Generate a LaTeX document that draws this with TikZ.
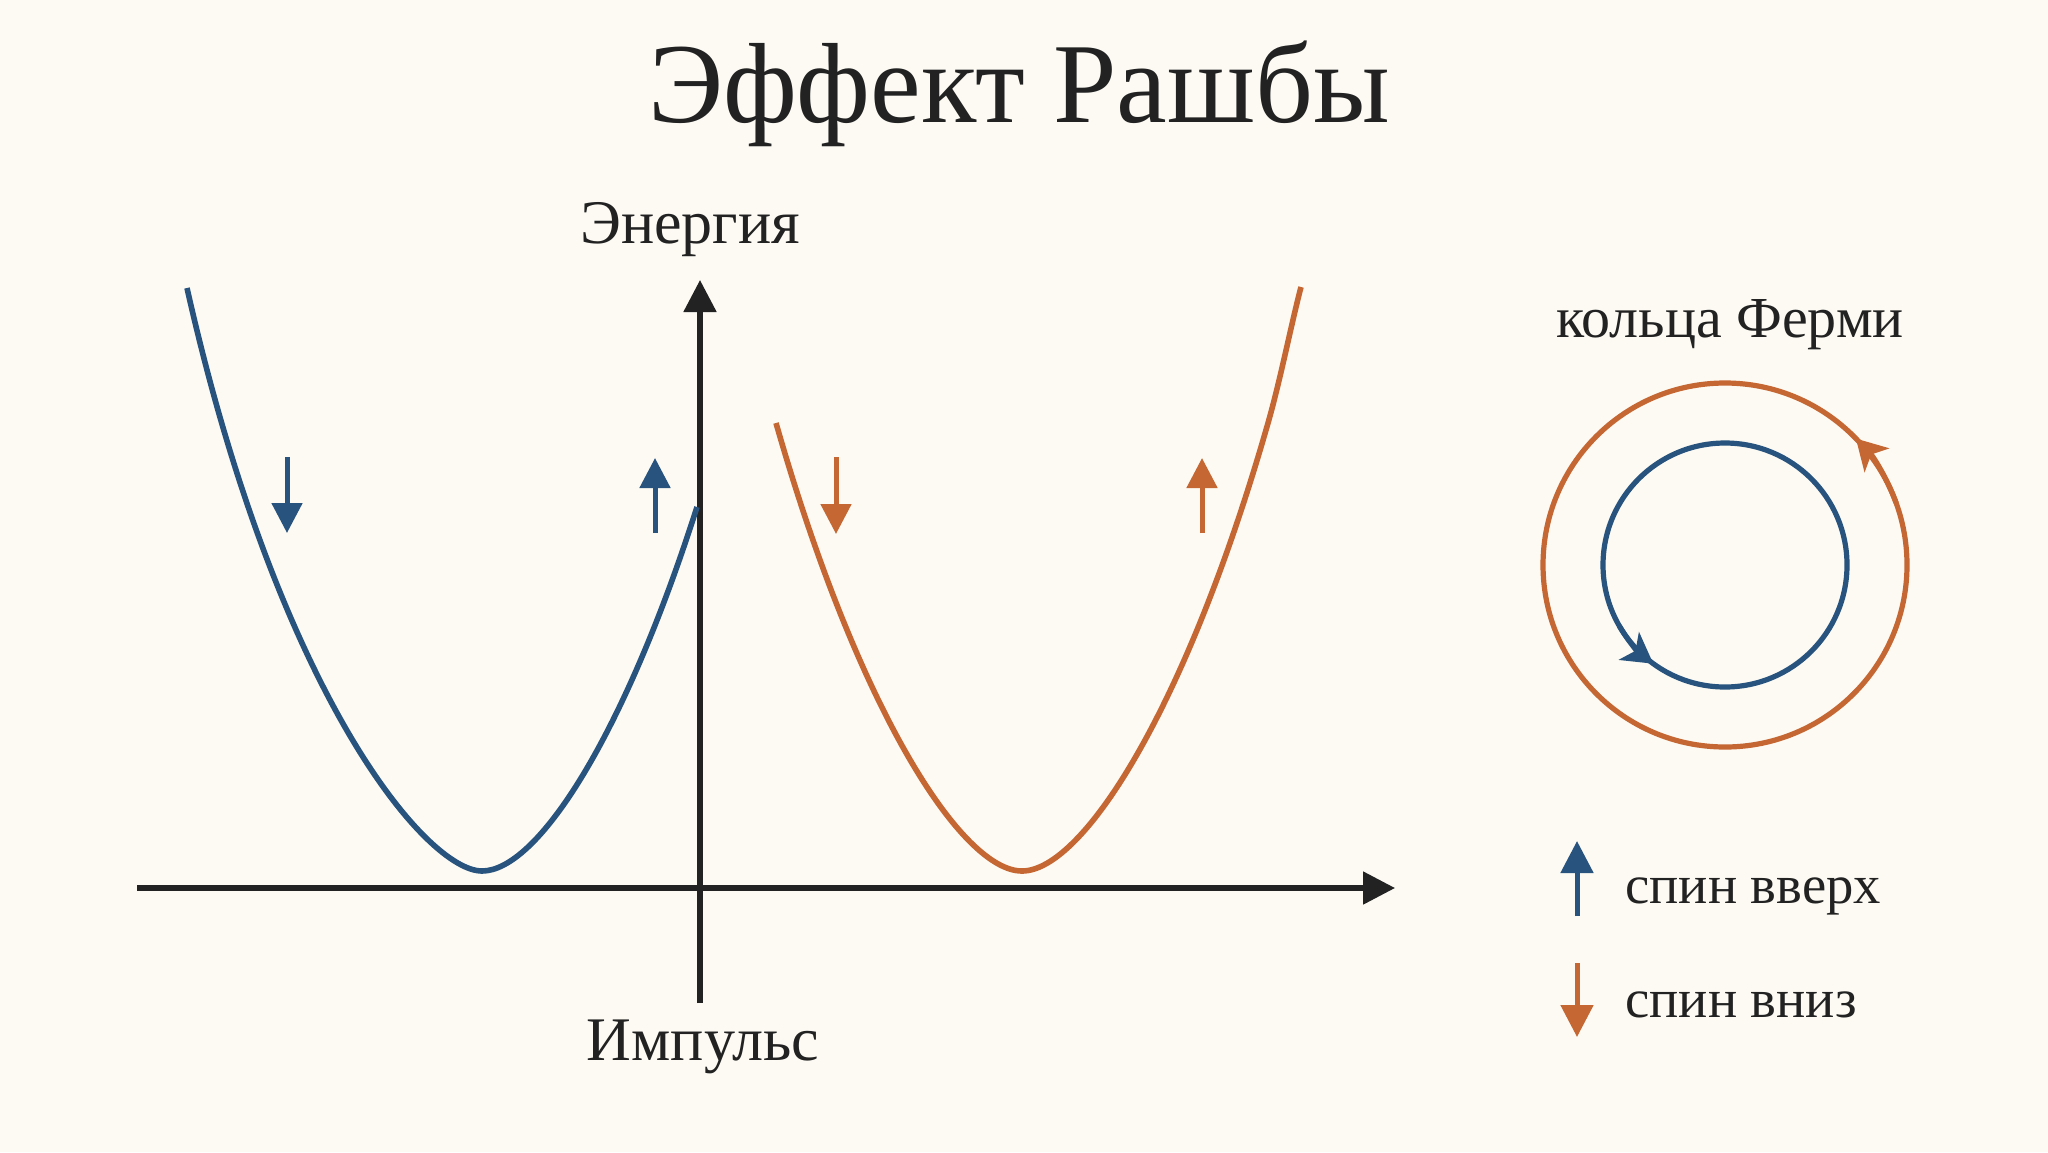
\documentclass[tikz,border=0pt]{standalone}
\usepackage{fontspec}
\setmainfont{Liberation Serif}
\usetikzlibrary{arrows.meta}
\definecolor{bg}{HTML}{FCFAF3}
\definecolor{spinblue}{HTML}{28537E}
\definecolor{spinorange}{HTML}{C56733}
\definecolor{ink}{HTML}{222222}
\begin{document}
\begin{tikzpicture}[x=0.5pt,y=-0.5pt,
 axisline/.style={draw=ink,line width=2.6pt,-{Triangle[length=16pt,width=16pt]}},
 band/.style={line width=2.8pt},
 spinarrow/.style={line width=2.5pt,-{Triangle[length=15pt,width=15pt]}},
 ringarrow/.style={line width=2.6pt,-{Stealth[length=15pt,width=17pt,inset=4pt]}},
 lbl/.style={text=ink,inner sep=0pt,anchor=base}]
\fill[bg] (0,0) rectangle (2048,1152);
\useasboundingbox (0,0) rectangle (2048,1152);

% title and labels
\node[lbl,font=\fontsize{57pt}{64pt}\selectfont] (title) at (1019,122) {Эффект Рашбы};
\node[lbl,font=\fontsize{31pt}{36pt}\selectfont] (elabel) at (690,243) {Энергия};
\node[lbl,font=\fontsize{31pt}{36pt}\selectfont] (klabel) at (703,1060) {Импульс};
\node[lbl,font=\fontsize{29pt}{34pt}\selectfont] (fermi) at (1730,337) {кольца Ферми};
\node[lbl,anchor=base west,font=\fontsize{27.3pt}{32pt}\selectfont] (upl) at (1625,903) {спин вверх};
\node[lbl,anchor=base west,font=\fontsize{27.3pt}{32pt}\selectfont] (dnl) at (1625,1017) {спин вниз};

% axes
\coordinate (xL) at (137,888);
\coordinate (xR) at (1395,888);
\coordinate (yB) at (700,1003);
\coordinate (yT) at (700,280);
\draw[axisline] (xL) -- (xR);
\draw[axisline] (yB) -- (yT);

% bands
\draw[band,spinblue] (187,288) .. controls (279.4,698) and (427,871) .. (482,871)
  .. controls (536,871) and (622,742) .. (697,507);
\draw[band,spinorange] (776,423) .. controls (858.5,711.6) and (962,871) .. (1022,871)
  .. controls (1082,871) and (1185.5,711.6) .. (1268,423)
  .. controls (1280.4,379.8) and (1291,325) .. (1301,287);

% spin arrows on bands
\coordinate (b1s) at (287,457); \coordinate (b1e) at (287,533);
\coordinate (b2s) at (655,533); \coordinate (b2e) at (655,458);
\coordinate (o1s) at (836,457); \coordinate (o1e) at (836,534);
\coordinate (o2s) at (1202,533); \coordinate (o2e) at (1202,458);
\draw[spinarrow,spinblue] (b1s) -- (b1e);
\draw[spinarrow,spinblue] (b2s) -- (b2e);
\draw[spinarrow,spinorange] (o1s) -- (o1e);
\draw[spinarrow,spinorange] (o2s) -- (o2e);

% Fermi rings
\coordinate (fc) at (1725,565);
\draw[spinorange,line width=2.6pt] (fc) circle[radius=182];
\draw[spinblue,line width=2.6pt] (fc) circle[radius=122];
\draw[ringarrow,spinorange] ([shift={(fc)}]-20:182) arc[start angle=-20,end angle=-44,radius=182];
\draw[ringarrow,spinblue] ([shift={(fc)}]150:122) arc[start angle=150,end angle=126,radius=122];

% legend
\coordinate (lus) at (1577,916); \coordinate (lue) at (1577,841);
\coordinate (lds) at (1577,963); \coordinate (lde) at (1577,1037);
\draw[spinarrow,spinblue,-{Triangle[length=16pt,width=16pt]}] (lus) -- (lue);
\draw[spinarrow,spinorange,-{Triangle[length=16pt,width=16pt]}] (lds) -- (lde);
\end{tikzpicture}
\end{document}
